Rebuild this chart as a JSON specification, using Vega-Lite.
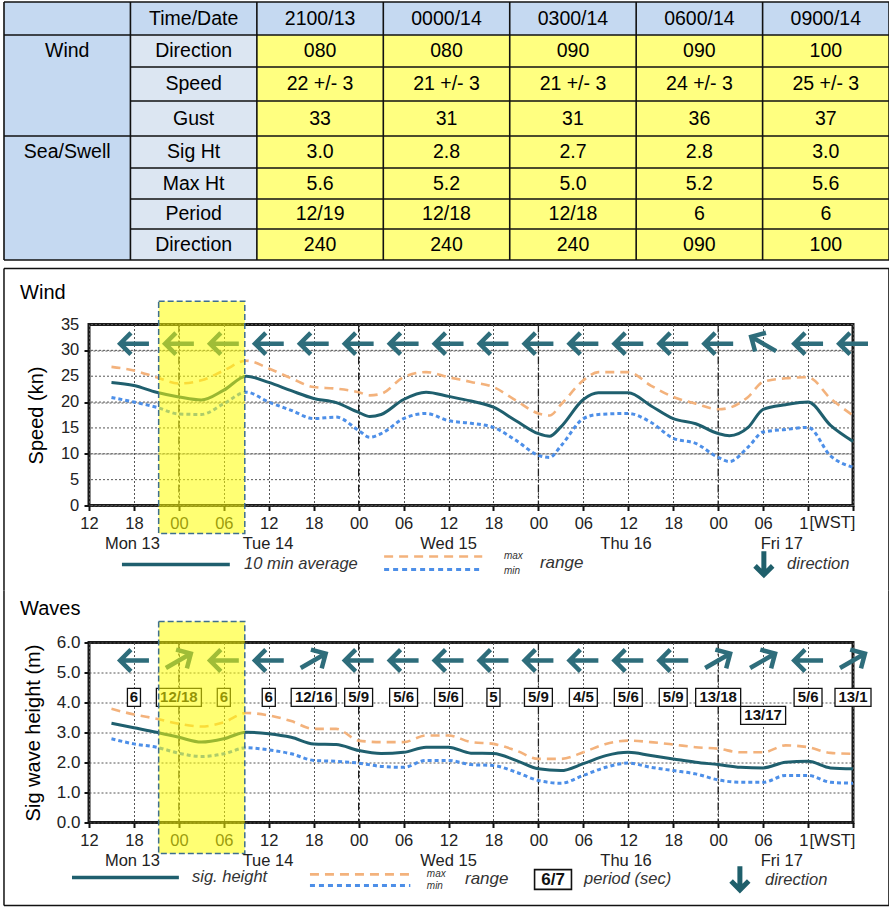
{
"$schema": "https://vega.github.io/schema/vega-lite/v6.json",
"padding": {"left": 1, "top": 1, "right": 0, "bottom": 0},
"background": "white",
"spacing": 4.5,
"config": {"font": "Liberation Sans", "text": {"font": "Liberation Sans"},
 "axisY": {"grid": true, "gridDash": [2,2], "gridColor": "#555", "gridWidth": 1, "domain": false, "tickSize": 5, "tickWidth": 2, "tickColor": "#111", "labelColor": "#222", "titleFontSize": 20, "titleFontWeight": "normal", "titleColor": "#000", "labelOverlap": false}},
"datasets": {
"one": [{}],
"ywind": [{"v":0},{"v":5},{"v":10},{"v":15},{"v":20},{"v":25},{"v":30},{"v":35}],
"cells": [
{"r":0,"c":0,"t":""},{"r":0,"c":1,"t":"Time/Date"},{"r":0,"c":2,"t":"2100/13"},{"r":0,"c":3,"t":"0000/14"},{"r":0,"c":4,"t":"0300/14"},{"r":0,"c":5,"t":"0600/14"},{"r":0,"c":6,"t":"0900/14"},
{"r":1,"c":0,"t":"Wind"},{"r":1,"c":1,"t":"Direction"},{"r":1,"c":2,"t":"080"},{"r":1,"c":3,"t":"080"},{"r":1,"c":4,"t":"090"},{"r":1,"c":5,"t":"090"},{"r":1,"c":6,"t":"100"},
{"r":2,"c":0,"t":""},{"r":2,"c":1,"t":"Speed"},{"r":2,"c":2,"t":"22 +/- 3"},{"r":2,"c":3,"t":"21 +/- 3"},{"r":2,"c":4,"t":"21 +/- 3"},{"r":2,"c":5,"t":"24 +/- 3"},{"r":2,"c":6,"t":"25 +/- 3"},
{"r":3,"c":0,"t":""},{"r":3,"c":1,"t":"Gust"},{"r":3,"c":2,"t":"33"},{"r":3,"c":3,"t":"31"},{"r":3,"c":4,"t":"31"},{"r":3,"c":5,"t":"36"},{"r":3,"c":6,"t":"37"},
{"r":4,"c":0,"t":"Sea/Swell"},{"r":4,"c":1,"t":"Sig Ht"},{"r":4,"c":2,"t":"3.0"},{"r":4,"c":3,"t":"2.8"},{"r":4,"c":4,"t":"2.7"},{"r":4,"c":5,"t":"2.8"},{"r":4,"c":6,"t":"3.0"},
{"r":5,"c":0,"t":""},{"r":5,"c":1,"t":"Max Ht"},{"r":5,"c":2,"t":"5.6"},{"r":5,"c":3,"t":"5.2"},{"r":5,"c":4,"t":"5.0"},{"r":5,"c":5,"t":"5.2"},{"r":5,"c":6,"t":"5.6"},
{"r":6,"c":0,"t":""},{"r":6,"c":1,"t":"Period"},{"r":6,"c":2,"t":"12/19"},{"r":6,"c":3,"t":"12/18"},{"r":6,"c":4,"t":"12/18"},{"r":6,"c":5,"t":"6"},{"r":6,"c":6,"t":"6"},
{"r":7,"c":0,"t":""},{"r":7,"c":1,"t":"Direction"},{"r":7,"c":2,"t":"240"},{"r":7,"c":3,"t":"240"},{"r":7,"c":4,"t":"240"},{"r":7,"c":5,"t":"090"},{"r":7,"c":6,"t":"100"}
],
"vl": [{"k":0},{"k":1},{"k":2},{"k":3},{"k":4},{"k":5},{"k":6},{"k":7}],
"hl": [{"y":0,"x0":0},{"y":1,"x0":0},{"y":2,"x0":1},{"y":3,"x0":1},{"y":4,"x0":0},{"y":5,"x0":1},{"y":6,"x0":1},{"y":7,"x0":1},{"y":8,"x0":0}],
"wind": [
{"h":3,"avg":23.8,"max":26.8,"min":20.9},{"h":6,"avg":23.2,"max":26.1,"min":20.0},{"h":9,"avg":21.9,"max":24.8,"min":19.0},{"h":12,"avg":21.0,"max":23.6,"min":17.7},{"h":15,"avg":20.4,"max":24.2,"min":17.6},{"h":18,"avg":22.3,"max":26.1,"min":19.7},{"h":21,"avg":25.0,"max":28.0,"min":21.9},{"h":24,"avg":23.8,"max":26.5,"min":20.0},{"h":27,"avg":22.2,"max":24.6,"min":18.4},{"h":30,"avg":20.7,"max":22.9,"min":16.8},{"h":33,"avg":19.9,"max":22.6,"min":17.1},{"h":36,"avg":18.0,"max":21.9,"min":14.5},{"h":37.5,"avg":17.2,"max":21.3,"min":13.2},{"h":39,"avg":17.6,"max":21.6,"min":13.9},{"h":42,"avg":20.5,"max":24.8,"min":16.8},{"h":45,"avg":21.9,"max":25.8,"min":17.8},{"h":48,"avg":21.1,"max":24.8,"min":16.4},{"h":51,"avg":20.2,"max":23.9,"min":15.9},{"h":54,"avg":19.0,"max":22.9,"min":15.1},{"h":57,"avg":16.4,"max":20.3,"min":12.6},{"h":60,"avg":13.9,"max":17.8,"min":9.7},{"h":61.5,"avg":13.4,"max":17.4,"min":9.3},{"h":63,"avg":15.2,"max":19.5,"min":11.5},{"h":66,"avg":20.5,"max":24.2,"min":16.8},{"h":68,"avg":21.8,"max":25.8,"min":17.6},{"h":72,"avg":21.8,"max":25.8,"min":17.8},{"h":75,"avg":19.3,"max":23.2,"min":16.1},{"h":78,"avg":16.8,"max":21.0,"min":13.0},{"h":81,"avg":15.8,"max":19.7,"min":12.0},{"h":84,"avg":13.9,"max":18.6,"min":9.3},{"h":85.5,"avg":13.5,"max":18.9,"min":8.5},{"h":88,"avg":15.1,"max":21.0,"min":11.3},{"h":90,"avg":18.6,"max":23.9,"min":14.2},{"h":93,"avg":19.5,"max":24.6,"min":14.7},{"h":96,"avg":20.0,"max":24.8,"min":15.1},{"h":99,"avg":15.5,"max":20.7,"min":9.6},{"h":102,"avg":12.4,"max":17.4,"min":7.4}
],
"waves": [
{"h":3,"avg":3.31,"max":3.79,"min":2.79},{"h":6,"avg":3.16,"max":3.6,"min":2.62},{"h":9,"avg":3.01,"max":3.46,"min":2.51},{"h":12,"avg":2.84,"max":3.29,"min":2.31},{"h":15,"avg":2.68,"max":3.2,"min":2.2},{"h":18,"avg":2.79,"max":3.34,"min":2.29},{"h":21,"avg":3.01,"max":3.65,"min":2.49},{"h":24,"avg":2.96,"max":3.57,"min":2.42},{"h":27,"avg":2.84,"max":3.38,"min":2.29},{"h":30,"avg":2.62,"max":3.12,"min":2.07},{"h":33,"avg":2.6,"max":3.12,"min":2.04},{"h":36,"avg":2.4,"max":2.73,"min":1.98},{"h":39,"avg":2.3,"max":2.68,"min":1.87},{"h":42,"avg":2.34,"max":2.68,"min":1.84},{"h":45,"avg":2.51,"max":2.9,"min":2.07},{"h":48,"avg":2.51,"max":2.9,"min":2.07},{"h":51,"avg":2.31,"max":2.68,"min":1.93},{"h":54,"avg":2.3,"max":2.62,"min":1.9},{"h":57,"avg":2.07,"max":2.4,"min":1.68},{"h":60,"avg":1.79,"max":2.12,"min":1.4},{"h":63,"avg":1.73,"max":2.12,"min":1.31},{"h":66,"avg":1.96,"max":2.34,"min":1.57},{"h":69,"avg":2.23,"max":2.62,"min":1.84},{"h":72,"avg":2.34,"max":2.73,"min":1.98},{"h":75,"avg":2.23,"max":2.68,"min":1.84},{"h":78,"avg":2.12,"max":2.6,"min":1.73},{"h":81,"avg":2.01,"max":2.51,"min":1.62},{"h":84,"avg":1.93,"max":2.46,"min":1.42},{"h":87,"avg":1.84,"max":2.34,"min":1.34},{"h":90,"avg":1.82,"max":2.34,"min":1.34},{"h":93,"avg":2.01,"max":2.57,"min":1.57},{"h":96,"avg":2.04,"max":2.51,"min":1.57},{"h":99,"avg":1.82,"max":2.32,"min":1.34},{"h":102,"avg":1.79,"max":2.29,"min":1.31}
],
"winddir": [{"h":6,"dir":90},{"h":12,"dir":90},{"h":18,"dir":90},{"h":24,"dir":90},{"h":30,"dir":90},{"h":36,"dir":90},{"h":42,"dir":90},{"h":48,"dir":90},{"h":54,"dir":90},{"h":60,"dir":90},{"h":66,"dir":90},{"h":72,"dir":90},{"h":78,"dir":90},{"h":84,"dir":90},{"h":90,"dir":120},{"h":96,"dir":90},{"h":102,"dir":90}],
"wavedir": [{"h":6,"dir":90},{"h":12,"dir":240},{"h":18,"dir":90},{"h":24,"dir":90},{"h":30,"dir":240},{"h":36,"dir":90},{"h":42,"dir":90},{"h":48,"dir":90},{"h":54,"dir":90},{"h":60,"dir":90},{"h":66,"dir":90},{"h":72,"dir":90},{"h":78,"dir":90},{"h":84,"dir":240},{"h":90,"dir":240},{"h":96,"dir":90},{"h":102,"dir":240}],
"period": [{"h":6,"p":"6"},{"h":12,"p":"12/18"},{"h":18,"p":"6"},{"h":24,"p":"6"},{"h":30,"p":"12/16"},{"h":36,"p":"5/9"},{"h":42,"p":"5/6"},{"h":48,"p":"5/6"},{"h":54,"p":"5"},{"h":60,"p":"5/9"},{"h":66,"p":"4/5"},{"h":72,"p":"5/6"},{"h":78,"p":"5/9"},{"h":84,"p":"13/18"},{"h":90,"p":"13/17"},{"h":96,"p":"5/6"},{"h":102,"p":"13/1"}],
"days": [{"h":5.8,"d":"Mon 13"},{"h":23.9,"d":"Tue 14"},{"h":48,"d":"Wed 15"},{"h":71.7,"d":"Thu 16"},{"h":92.5,"d":"Fri 17"}],
"dayline": [{"h":12},{"h":36},{"h":60},{"h":84}]
},
"vconcat": [
{
"width": 764, "height": 258,
"view": {"stroke": null},
"layer": [
{"data": {"name": "cells"},
 "transform": [{"calculate": "datum.c+1", "as": "c1"}, {"calculate": "datum.r+1", "as": "r1"}, {"calculate": "datum.r==0||datum.c==0?'a':(datum.c==1?'b':'c')", "as": "kind"}],
 "mark": {"type": "rect"},
 "encoding": {
  "x": {"field": "c", "type": "quantitative", "scale": {"domain": [0.672316, 6.714937], "nice": false, "zero": false}, "axis": null},
  "x2": {"field": "c1"},
  "y": {"field": "r", "type": "quantitative", "scale": {"domain": [0,1,2,3,4,5,6,7,8], "range": [0,33,65,99,134,166,197,227,258], "nice": false, "zero": false}, "axis": null},
  "y2": {"field": "r1"},
  "color": {"field": "kind", "type": "nominal", "scale": {"domain": ["a","b","c"], "range": ["#c5d9f1","#dce6f2","#ffff80"]}, "legend": null}
 }},
{"data": {"name": "cells"},
 "transform": [{"calculate": "datum.c+0.5", "as": "cx"}, {"calculate": "datum.r+0.5", "as": "cy"}],
 "mark": {"type": "text", "fontSize": 19.5, "color": "#000", "baseline": "middle", "align": "center"},
 "encoding": {
  "x": {"field": "cx", "type": "quantitative", "axis": null},
  "y": {"field": "cy", "type": "quantitative", "axis": null},
  "text": {"field": "t"}
 }},
{"data": {"name": "vl"},
 "mark": {"type": "rule", "color": "#111", "strokeWidth": 1.6},
 "encoding": {
  "x": {"field": "k", "type": "quantitative", "axis": null},
  "y": {"datum": 0, "type": "quantitative", "axis": null},
  "y2": {"datum": 8}
 }},
{"data": {"name": "hl"},
 "mark": {"type": "rule", "color": "#111", "strokeWidth": 1.6},
 "encoding": {
  "y": {"field": "y", "type": "quantitative", "axis": null},
  "x": {"field": "x0", "type": "quantitative", "axis": null},
  "x2": {"datum": 7}
 }}
]
},
{
"spacing": -6,
"vconcat": [
{
"width": 764, "height": 181,
"view": {"stroke": "#1a1a1a", "strokeWidth": 3},
"layer": [
{"data": {"name": "ywind"},
 "mark": {"type": "rule", "color": "#555", "strokeWidth": 1, "strokeDash": [2,2]},
 "encoding": {"y": {"field": "v", "type": "quantitative"}}},
{"data": {"name": "dayline"},
 "mark": {"type": "rule", "color": "#222", "strokeWidth": 1.3, "strokeDash": [8,3,2,3]},
 "encoding": {"x": {"field": "h", "type": "quantitative"}}},
{"data": {"name": "wind"},
 "mark": {"type": "line", "interpolate": "monotone", "color": "#f3b27c", "strokeWidth": 2.6, "strokeDash": [9,6]},
 "encoding": {
  "x": {"field": "h", "type": "quantitative", "scale": {"domain": [0,102], "nice": false, "zero": false},
   "axis": {"values": [0,6,12,18,24,30,36,42,48,54,60,66,72,78,84,90,96,102], "labelExpr": "datum.value==96 ? '1' : (datum.value==102 ? '' : ((((datum.value+12)%24) < 10 ? '0' : '') + ((datum.value+12)%24)))", "labelAlign": {"condition": {"test": "datum.value == 96", "value": "right"}, "value": "center"}, "title": null, "grid": true, "gridDash": [2,2], "gridColor": "#555", "gridWidth": 1, "domain": false, "tickSize": 5, "tickWidth": 2, "tickColor": "#111", "labelFontSize": 16.5, "labelColor": "#222", "labelPadding": 5, "labelFlush": false, "labelOverlap": false}},
  "y": {"field": "max", "type": "quantitative", "scale": {"domain": [0,35], "nice": false, "zero": false},
   "axis": {"values": [0,5,10,15,20,25,30,35], "labels": false, "title": "Speed (kn)", "titlePadding": 37}}
 }},
{"data": {"name": "wind"},
 "mark": {"type": "line", "interpolate": "monotone", "color": "#4d8fe8", "strokeWidth": 3, "strokeDash": [4,3]},
 "encoding": {"x": {"field": "h", "type": "quantitative"}, "y": {"field": "min", "type": "quantitative"}}},
{"data": {"name": "wind"},
 "mark": {"type": "line", "interpolate": "monotone", "color": "#1f5f6e", "strokeWidth": 3},
 "encoding": {"x": {"field": "h", "type": "quantitative"}, "y": {"field": "avg", "type": "quantitative"}}},
{"data": {"name": "ywind"},
 "mark": {"type": "text", "fontSize": 16.5, "color": "#222", "align": "right", "baseline": "middle"},
 "encoding": {"x": {"datum": -1.3, "type": "quantitative"}, "y": {"field": "v", "type": "quantitative"}, "text": {"field": "v"}}},
{"data": {"name": "winddir"},
 "mark": {"type": "point", "shape": "M0,-1L0,0.9M-0.72,0.2L0,0.92L0.72,0.2", "filled": false, "color": "#2e6d7b", "strokeWidth": 4.5, "size": 900, "opacity": 1},
 "encoding": {"x": {"field": "h", "type": "quantitative"}, "y": {"datum": 31.3, "type": "quantitative"}, "angle": {"field": "dir", "type": "quantitative", "scale": null}}},
{"data": {"name": "one"},
 "mark": {"type": "rect", "fill": "#ffff00", "fillOpacity": 0.55, "stroke": "#3e6f8e", "strokeDash": [6,3], "strokeWidth": 1.5},
 "encoding": {"x": {"datum": 9.3, "type": "quantitative"}, "x2": {"datum": 20.8}, "y": {"datum": 39.5, "type": "quantitative"}, "y2": {"datum": -5.4}}},
{"data": {"name": "days"},
 "mark": {"type": "text", "fontSize": 16.5, "color": "#222", "baseline": "middle"},
 "encoding": {"x": {"field": "h", "type": "quantitative"}, "y": {"datum": -7.35, "type": "quantitative"}, "text": {"field": "d"}}},
{"data": {"name": "one"},
 "mark": {"type": "text", "text": "[WST]", "fontSize": 16.5, "color": "#222", "baseline": "middle"},
 "encoding": {"x": {"datum": 99.25, "type": "quantitative"}, "y": {"datum": -3.29, "type": "quantitative"}}},
{"data": {"name": "one"},
 "mark": {"type": "text", "text": "Wind", "fontSize": 20, "color": "#000", "align": "left", "baseline": "middle"},
 "encoding": {"x": {"datum": -9.2, "type": "quantitative"}, "y": {"datum": 41.0, "type": "quantitative"}}},
{"data": {"name": "one"},
 "mark": {"type": "rule", "color": "#1f5f6e", "strokeWidth": 3.5},
 "encoding": {"x": {"datum": 4.4, "type": "quantitative"}, "x2": {"datum": 18.8}, "y": {"datum": -11.4, "type": "quantitative"}}},
{"data": {"name": "one"},
 "mark": {"type": "text", "text": "10 min average", "fontSize": 16.5, "fontStyle": "italic", "color": "#333", "align": "left", "baseline": "middle"},
 "encoding": {"x": {"datum": 20.7, "type": "quantitative"}, "y": {"datum": -11.4, "type": "quantitative"}}},
{"data": {"name": "one"},
 "mark": {"type": "rule", "color": "#f3b27c", "strokeWidth": 2.6, "strokeDash": [9,6]},
 "encoding": {"x": {"datum": 39.4, "type": "quantitative"}, "x2": {"datum": 52.5}, "y": {"datum": -9.86, "type": "quantitative"}}},
{"data": {"name": "one"},
 "mark": {"type": "rule", "color": "#4d8fe8", "strokeWidth": 3, "strokeDash": [5,4]},
 "encoding": {"x": {"datum": 39.4, "type": "quantitative"}, "x2": {"datum": 52.5}, "y": {"datum": -12.38, "type": "quantitative"}}},
{"data": {"name": "one"},
 "mark": {"type": "text", "text": "max", "fontSize": 10, "fontStyle": "italic", "color": "#333", "align": "left", "baseline": "middle"},
 "encoding": {"x": {"datum": 55.4, "type": "quantitative"}, "y": {"datum": -9.86, "type": "quantitative"}}},
{"data": {"name": "one"},
 "mark": {"type": "text", "text": "min", "fontSize": 10, "fontStyle": "italic", "color": "#333", "align": "left", "baseline": "middle"},
 "encoding": {"x": {"datum": 55.4, "type": "quantitative"}, "y": {"datum": -12.6, "type": "quantitative"}}},
{"data": {"name": "one"},
 "mark": {"type": "text", "text": "range", "fontSize": 17, "fontStyle": "italic", "color": "#333", "align": "left", "baseline": "middle"},
 "encoding": {"x": {"datum": 60.2, "type": "quantitative"}, "y": {"datum": -11.2, "type": "quantitative"}}},
{"data": {"name": "one"},
 "mark": {"type": "point", "shape": "M0,-1L0,0.9M-0.72,0.2L0,0.92L0.72,0.2", "filled": false, "color": "#1f5f6b", "strokeWidth": 5, "size": 600, "opacity": 1},
 "encoding": {"x": {"datum": 90.1, "type": "quantitative"}, "y": {"datum": -11.2, "type": "quantitative"}}},
{"data": {"name": "one"},
 "mark": {"type": "text", "text": "direction", "fontSize": 16.5, "fontStyle": "italic", "color": "#333", "align": "left", "baseline": "middle"},
 "encoding": {"x": {"datum": 93.2, "type": "quantitative"}, "y": {"datum": -11.4, "type": "quantitative"}}},
{"data": {"name": "one"},
 "mark": {"type": "rule", "color": "#111", "strokeWidth": 1.5},
 "encoding": {"x": {"datum": -11.35, "type": "quantitative"}, "x2": {"datum": 106.8}, "y": {"datum": 45.83, "type": "quantitative"}}},
{"data": {"name": "one"},
 "mark": {"type": "rule", "color": "#111", "strokeWidth": 1.5},
 "encoding": {"x": {"datum": -11.35, "type": "quantitative"}, "y": {"datum": 45.83, "type": "quantitative"}, "y2": {"datum": -16.44}}},
{"data": {"name": "one"},
 "mark": {"type": "rule", "color": "#111", "strokeWidth": 1.5},
 "encoding": {"x": {"datum": 106.8, "type": "quantitative"}, "y": {"datum": 45.83, "type": "quantitative"}, "y2": {"datum": -16.44}}}
]
},
{
"width": 764, "height": 180,
"view": {"stroke": "#1a1a1a", "strokeWidth": 3},
"layer": [
{"data": {"name": "dayline"},
 "mark": {"type": "rule", "color": "#222", "strokeWidth": 1.3, "strokeDash": [8,3,2,3]},
 "encoding": {"x": {"field": "h", "type": "quantitative"}}},
{"data": {"name": "waves"},
 "mark": {"type": "line", "interpolate": "monotone", "color": "#f3b27c", "strokeWidth": 2.6, "strokeDash": [9,6]},
 "encoding": {
  "x": {"field": "h", "type": "quantitative", "scale": {"domain": [0,102], "nice": false, "zero": false},
   "axis": {"values": [0,6,12,18,24,30,36,42,48,54,60,66,72,78,84,90,96,102], "labelExpr": "datum.value==96 ? '1' : (datum.value==102 ? '' : ((((datum.value+12)%24) < 10 ? '0' : '') + ((datum.value+12)%24)))", "labelAlign": {"condition": {"test": "datum.value == 96", "value": "right"}, "value": "center"}, "title": null, "grid": true, "gridDash": [2,2], "gridColor": "#555", "gridWidth": 1, "domain": false, "tickSize": 5, "tickWidth": 2, "tickColor": "#111", "labelFontSize": 16.5, "labelColor": "#222", "labelPadding": 5, "labelFlush": false, "labelOverlap": false}},
  "y": {"field": "max", "type": "quantitative", "scale": {"domain": [0,6], "nice": false, "zero": false},
   "axis": {"values": [0,1,2,3,4,5,6], "tickCount": 7, "format": ".1f", "title": "Sig wave height (m)", "titlePadding": 13, "labelFontSize": 17, "labelPadding": 4}}
 }},
{"data": {"name": "waves"},
 "mark": {"type": "line", "interpolate": "monotone", "color": "#4d8fe8", "strokeWidth": 3, "strokeDash": [4,3]},
 "encoding": {"x": {"field": "h", "type": "quantitative"}, "y": {"field": "min", "type": "quantitative"}}},
{"data": {"name": "waves"},
 "mark": {"type": "line", "interpolate": "monotone", "color": "#1f5f6e", "strokeWidth": 3},
 "encoding": {"x": {"field": "h", "type": "quantitative"}, "y": {"field": "avg", "type": "quantitative"}}},
{"data": {"name": "wavedir"},
 "mark": {"type": "point", "shape": "M0,-1L0,0.9M-0.72,0.2L0,0.92L0.72,0.2", "filled": false, "color": "#2e6d7b", "strokeWidth": 4.5, "size": 900, "opacity": 1},
 "encoding": {"x": {"field": "h", "type": "quantitative"}, "y": {"datum": 5.4, "type": "quantitative"}, "angle": {"field": "dir", "type": "quantitative", "scale": null}}},
{"data": {"name": "period"},
 "transform": [{"filter": "datum.p != '13/17'"}, {"calculate": "length(datum.p)", "as": "len"}],
 "mark": {"type": "point", "filled": true, "fill": "white", "stroke": "#111", "strokeWidth": 1.3, "size": 2025, "opacity": 1},
 "encoding": {"x": {"field": "h", "type": "quantitative"}, "y": {"datum": 4.17, "type": "quantitative"},
  "shape": {"field": "len", "type": "nominal", "scale": {"domain": [1,3,4,5], "range": ["M-0.29,-0.4H0.29V0.4H-0.29Z","M-0.62,-0.4H0.62V0.4H-0.62Z","M-0.8,-0.4H0.8V0.4H-0.8Z","M-1,-0.4H1V0.4H-1Z"]}, "legend": null}}},
{"data": {"name": "period"},
 "transform": [{"filter": "datum.p == '13/17'"}],
 "mark": {"type": "point", "filled": true, "fill": "white", "stroke": "#111", "strokeWidth": 1.3, "size": 2025, "opacity": 1, "shape": "M-1,-0.4H1V0.4H-1Z"},
 "encoding": {"x": {"field": "h", "type": "quantitative"}, "y": {"datum": 3.57, "type": "quantitative"}}},
{"data": {"name": "period"},
 "transform": [{"filter": "datum.p != '13/17'"}],
 "mark": {"type": "text", "fontSize": 15, "fontWeight": "bold", "color": "#111", "baseline": "middle"},
 "encoding": {"x": {"field": "h", "type": "quantitative"}, "y": {"datum": 4.17, "type": "quantitative"}, "text": {"field": "p"}}},
{"data": {"name": "period"},
 "transform": [{"filter": "datum.p == '13/17'"}],
 "mark": {"type": "text", "fontSize": 15, "fontWeight": "bold", "color": "#111", "baseline": "middle"},
 "encoding": {"x": {"field": "h", "type": "quantitative"}, "y": {"datum": 3.57, "type": "quantitative"}, "text": {"field": "p"}}},
{"data": {"name": "one"},
 "mark": {"type": "rect", "fill": "#ffff00", "fillOpacity": 0.55, "stroke": "#3e6f8e", "strokeDash": [6,3], "strokeWidth": 1.5},
 "encoding": {"x": {"datum": 9.3, "type": "quantitative"}, "x2": {"datum": 20.8}, "y": {"datum": 6.7, "type": "quantitative"}, "y2": {"datum": -1.03}}},
{"data": {"name": "days"},
 "mark": {"type": "text", "fontSize": 16.5, "color": "#222", "baseline": "middle"},
 "encoding": {"x": {"field": "h", "type": "quantitative"}, "y": {"datum": -1.27, "type": "quantitative"}, "text": {"field": "d"}}},
{"data": {"name": "one"},
 "mark": {"type": "text", "text": "[WST]", "fontSize": 16.5, "color": "#222", "baseline": "middle"},
 "encoding": {"x": {"datum": 99.25, "type": "quantitative"}, "y": {"datum": -0.6, "type": "quantitative"}}},
{"data": {"name": "one"},
 "mark": {"type": "text", "text": "Waves", "fontSize": 20, "color": "#000", "align": "left", "baseline": "middle"},
 "encoding": {"x": {"datum": -9.2, "type": "quantitative"}, "y": {"datum": 7.13, "type": "quantitative"}}},
{"data": {"name": "one"},
 "mark": {"type": "rule", "color": "#1f5f6e", "strokeWidth": 3.5},
 "encoding": {"x": {"datum": -2.27, "type": "quantitative"}, "x2": {"datum": 12.0}, "y": {"datum": -1.83, "type": "quantitative"}}},
{"data": {"name": "one"},
 "mark": {"type": "text", "text": "sig. height", "fontSize": 16.5, "fontStyle": "italic", "color": "#333", "align": "left", "baseline": "middle"},
 "encoding": {"x": {"datum": 13.75, "type": "quantitative"}, "y": {"datum": -1.83, "type": "quantitative"}}},
{"data": {"name": "one"},
 "mark": {"type": "rule", "color": "#f3b27c", "strokeWidth": 2.6, "strokeDash": [9,6]},
 "encoding": {"x": {"datum": 29.5, "type": "quantitative"}, "x2": {"datum": 42.9}, "y": {"datum": -1.73, "type": "quantitative"}}},
{"data": {"name": "one"},
 "mark": {"type": "rule", "color": "#4d8fe8", "strokeWidth": 3, "strokeDash": [5,4]},
 "encoding": {"x": {"datum": 29.5, "type": "quantitative"}, "x2": {"datum": 42.9}, "y": {"datum": -2.1, "type": "quantitative"}}},
{"data": {"name": "one"},
 "mark": {"type": "text", "text": "max", "fontSize": 10, "fontStyle": "italic", "color": "#333", "align": "left", "baseline": "middle"},
 "encoding": {"x": {"datum": 45.1, "type": "quantitative"}, "y": {"datum": -1.73, "type": "quantitative"}}},
{"data": {"name": "one"},
 "mark": {"type": "text", "text": "min", "fontSize": 10, "fontStyle": "italic", "color": "#333", "align": "left", "baseline": "middle"},
 "encoding": {"x": {"datum": 45.1, "type": "quantitative"}, "y": {"datum": -2.13, "type": "quantitative"}}},
{"data": {"name": "one"},
 "mark": {"type": "text", "text": "range", "fontSize": 17, "fontStyle": "italic", "color": "#333", "align": "left", "baseline": "middle"},
 "encoding": {"x": {"datum": 50.2, "type": "quantitative"}, "y": {"datum": -1.87, "type": "quantitative"}}},
{"data": {"name": "one"},
 "mark": {"type": "point", "filled": true, "fill": "white", "stroke": "#111", "strokeWidth": 1.6, "size": 2025, "opacity": 1, "shape": "M-0.82,-0.44H0.82V0.44H-0.82Z"},
 "encoding": {"x": {"datum": 61.95, "type": "quantitative"}, "y": {"datum": -1.9, "type": "quantitative"}}},
{"data": {"name": "one"},
 "mark": {"type": "text", "text": "6/7", "fontSize": 17, "fontWeight": "bold", "color": "#111", "baseline": "middle"},
 "encoding": {"x": {"datum": 61.95, "type": "quantitative"}, "y": {"datum": -1.9, "type": "quantitative"}}},
{"data": {"name": "one"},
 "mark": {"type": "text", "text": "period (sec)", "fontSize": 16.5, "fontStyle": "italic", "color": "#333", "align": "left", "baseline": "middle"},
 "encoding": {"x": {"datum": 66.1, "type": "quantitative"}, "y": {"datum": -1.87, "type": "quantitative"}}},
{"data": {"name": "one"},
 "mark": {"type": "point", "shape": "M0,-1L0,0.9M-0.72,0.2L0,0.92L0.72,0.2", "filled": false, "color": "#1f5f6b", "strokeWidth": 5, "size": 600, "opacity": 1},
 "encoding": {"x": {"datum": 86.9, "type": "quantitative"}, "y": {"datum": -1.87, "type": "quantitative"}}},
{"data": {"name": "one"},
 "mark": {"type": "text", "text": "direction", "fontSize": 16.5, "fontStyle": "italic", "color": "#333", "align": "left", "baseline": "middle"},
 "encoding": {"x": {"datum": 90.25, "type": "quantitative"}, "y": {"datum": -1.9, "type": "quantitative"}}},
{"data": {"name": "one"},
 "mark": {"type": "rule", "color": "#111", "strokeWidth": 1.5},
 "encoding": {"x": {"datum": -11.35, "type": "quantitative"}, "x2": {"datum": 106.8}, "y": {"datum": -2.767, "type": "quantitative"}}},
{"data": {"name": "one"},
 "mark": {"type": "rule", "color": "#111", "strokeWidth": 1.5},
 "encoding": {"x": {"datum": -11.35, "type": "quantitative"}, "y": {"datum": 7.733, "type": "quantitative"}, "y2": {"datum": -2.767}}},
{"data": {"name": "one"},
 "mark": {"type": "rule", "color": "#111", "strokeWidth": 1.5},
 "encoding": {"x": {"datum": 106.8, "type": "quantitative"}, "y": {"datum": 7.733, "type": "quantitative"}, "y2": {"datum": -2.767}}}
]
}
]
}
]
}
